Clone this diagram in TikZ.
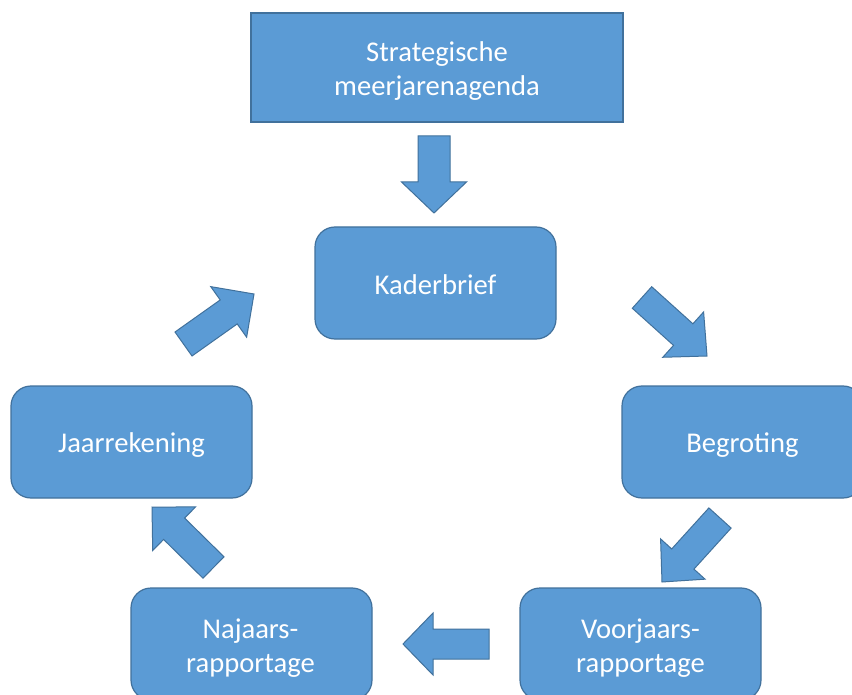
\documentclass[tikz,border=0pt]{standalone}
\usepackage{fontspec}
\setmainfont{Carlito}
\usetikzlibrary{calc}
\definecolor{boxfill}{HTML}{5B9BD5}
\definecolor{boxline}{HTML}{41719C}
\tikzset{
  stagebox/.style={draw=boxline, line width=1.2pt, fill=boxfill,
    rounded corners=20pt, minimum width=241pt, minimum height=112pt,
    inner sep=0pt},
  topbox/.style={stagebox, rounded corners=0pt, minimum width=372pt, minimum height=109pt},
  boxtext/.style={text=white, align=center, inner sep=0pt,
    font=\fontsize{28.6pt}{34.5pt}\selectfont},
  blockarrow/.style={draw=boxline, line width=1pt, fill=boxfill, line join=miter}
}
% #1 tail, #2 tip, #3 shaft half width, #4 head half width, #5 head length
\newcommand\bigarrow[5]{%
  \coordinate (hb) at ($(#2)!#5!(#1)$);
  \draw[blockarrow]
    ($(#1)!#3!90:(#2)$) -- ($(hb)!#3!-90:(#1)$) -- ($(hb)!#4!-90:(#1)$) --
    (#2) -- ($(hb)!#4!90:(#1)$) -- ($(hb)!#3!90:(#1)$) --
    ($(#1)!#3!-90:(#2)$) -- cycle;
}
\begin{document}
\begin{tikzpicture}[x=1pt,y=-1pt]
\useasboundingbox (0,0) rectangle (852,695);
\clip (0,0) rectangle (852,695);
\fill[white] (0,0) rectangle (852,695);

\node[topbox]   (sma)  at (437,67.5)  {};
\node[stagebox] (kad)  at (435.5,283) {};
\node[stagebox] (beg)  at (742.5,442) {};
\node[stagebox] (voor) at (640.5,644) {};
\node[stagebox] (naj)  at (251.5,644) {};
\node[stagebox] (jaar) at (131.5,442) {};

\node[boxtext] (smat)  at ($(sma)+(0,3.5)$)  {Strategische\\meerjarenagenda};
\node[boxtext] (kadt)  at ($(kad)+(0,2)$)    {Kaderbrief};
\node[boxtext] (begt)  at ($(beg)+(0,3)$)    {Begroting};
\node[boxtext] (voort) at ($(voor)+(0,4)$)   {Voorjaars-\\rapportage};
\node[boxtext] (najt)  at ($(naj)+(-1,4)$)   {Najaars-\\rapportage};
\node[boxtext] (jaart) at ($(jaar)+(0,3)$)   {Jaarrekening};

% arrow end points
\coordinate (a1t) at (434,136);   \coordinate (a1p) at (434,213);
\coordinate (a2t) at (642,297.5); \coordinate (a2p) at (707,356);
\coordinate (a3t) at (720,518);   \coordinate (a3p) at (662,582);
\coordinate (a4t) at (489,644);   \coordinate (a4p) at (403,644);
\coordinate (a5t) at (213.5,567.5); \coordinate (a5p) at (152,507);
\coordinate (a6t) at (183.5,344); \coordinate (a6p) at (254,294);

\bigarrow{a1t}{a1p}{16pt}{32.5pt}{31pt}
\bigarrow{a2t}{a2p}{14.5pt}{30.5pt}{32pt}
\bigarrow{a3t}{a3p}{15pt}{30pt}{31pt}
\bigarrow{a4t}{a4p}{15pt}{31pt}{30pt}
\bigarrow{a5t}{a5p}{15pt}{30.5pt}{31pt}
\bigarrow{a6t}{a6p}{14.7pt}{31pt}{31pt}
\end{tikzpicture}
\end{document}
